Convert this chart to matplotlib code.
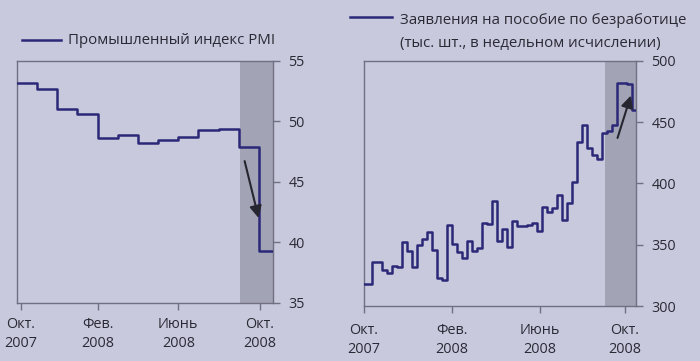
import matplotlib.pyplot as plt
import numpy as np

# PMI, monthly, Oct 2007 .. Oct 2008
pmi = [53.2, 52.7, 51.0, 50.6, 48.6, 48.9, 48.2, 48.5, 48.7, 49.3, 49.4, 47.9, 39.3]

# initial jobless claims, weekly (thousands), early Oct 2007 .. Oct 2008
claims = [318, 318, 336, 336, 329, 327, 333, 332, 352, 345,
          332, 350, 355, 360, 346, 323, 321, 366, 351, 344,
          339, 353, 345, 347, 368, 367, 386, 353, 363, 348,
          369, 365, 365, 366, 368, 361, 381, 377, 380, 391,
          370, 384, 401, 434, 448, 429, 423, 420, 441, 443,
          448, 482, 482, 481, 460]

tick_labels = ['Окт.\n2007', 'Фев.\n2008', 'Июнь\n2008', 'Окт.\n2008']
pmi_ticks = [0.2, 4, 8, 12.05]
claims_ticks = [0.46, 18.06, 35.66, 52.66]

pmi_title = 'Промышленный индекс PMI'
claims_title = 'Заявления на пособие по безработице'
claims_sub = '(тыс. шт., в недельном исчислении)'

BG = '#c9c9dd'
BAND = '#a3a3b6'
LINE = '#2c2878'
SPINE = '#707082'
TEXT = '#2a2a36'
ARROW = '#262630'

plt.rcParams.update({'font.family': ['Open Sans', 'DejaVu Sans'], 'font.size': 10})

fig = plt.figure(figsize=(7.0, 3.61), dpi=100, facecolor=BG)


def style_axis(ax, ticks, xpad):
    ax.set_facecolor(BG)
    for s in ax.spines.values():
        s.set_color(SPINE)
        s.set_linewidth(1.0)
    ax.yaxis.tick_right()
    ax.tick_params(axis='y', direction='out', length=5, width=1, color=SPINE,
                   labelcolor=TEXT, labelsize=10.4, pad=6)
    ax.tick_params(axis='x', direction='out', length=5, width=1, color=SPINE,
                   labelcolor=TEXT, labelsize=10.4, pad=xpad)
    ax.set_xticks(ticks)
    ax.set_xticklabels(tick_labels, linespacing=1.4)


# left panel: PMI
ax1 = fig.add_axes([17 / 700, 1 - 303 / 361, 256 / 700, 242 / 361])
style_axis(ax1, pmi_ticks, 5)
ax1.set_xlim(0, 12.7)
ax1.set_ylim(35, 55)
ax1.set_yticks([35, 40, 45, 50, 55])
ax1.axvspan(11.06, 12.7, color=BAND, lw=0, zorder=0)
x1 = np.arange(len(pmi) + 1)
ax1.step(x1, np.append(pmi, pmi[-1]), where='post', color=LINE, lw=1.8, zorder=3)
ax1.annotate('', xy=(12.02, 41.8), xytext=(11.26, 46.95),
             arrowprops=dict(arrowstyle='-|>', color=ARROW, lw=1.5, mutation_scale=18),
             zorder=4)

# right panel: claims
ax2 = fig.add_axes([364 / 700, 1 - 306 / 361, 272 / 700, 245 / 361])
style_axis(ax2, claims_ticks, 7)
ax2.set_xlim(0.46, 54.86)
ax2.set_ylim(300, 500)
ax2.set_yticks([300, 350, 400, 450, 500])
ax2.axvspan(48.66, 54.86, color=BAND, lw=0, zorder=0)
x2 = np.arange(len(claims) + 1)
ax2.step(x2, np.append(claims, claims[-1]), where='post', color=LINE, lw=1.8, zorder=3)
ax2.annotate('', xy=(54.0, 474), xytext=(51.0, 435),
             arrowprops=dict(arrowstyle='-|>', color=ARROW, lw=1.5, mutation_scale=18),
             zorder=4)

# legends drawn by hand
fig.add_artist(plt.Line2D([22 / 700, 61 / 700], [1 - 40 / 361] * 2, color=LINE, lw=1.8))
fig.text(68 / 700, 1 - 40 / 361, pmi_title, ha='left', va='center', fontsize=10.8, color=TEXT)
fig.add_artist(plt.Line2D([350 / 700, 392 / 700], [1 - 17 / 361] * 2, color=LINE, lw=1.8))
fig.text(400 / 700, 1 - 20 / 361, claims_title, ha='left', va='center', fontsize=10.8, color=TEXT)
fig.text(400 / 700, 1 - 44 / 361, claims_sub, ha='left', va='center', fontsize=10.8, color=TEXT)

fig.savefig('out.png', dpi=100, facecolor=BG)
